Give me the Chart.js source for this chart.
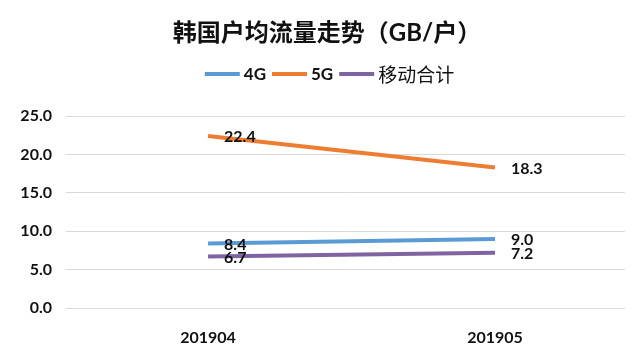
<!DOCTYPE html>
<html><head><meta charset="utf-8">
<script src="https://cdn.jsdelivr.net/npm/chart.js@4.4.1/dist/chart.umd.min.js"></script>
<style>html,body{margin:0;padding:0;background:#fff}#wrap{width:640px;height:351px}</style>
</head><body><div id="wrap"><canvas id="c" width="640" height="351"></canvas></div>
<script>
const categories = ["201904", "201905"];
const series4G = [8.4, 9.0];
const series5G = [22.4, 18.3];
const seriesTotal = [6.7, 7.2];
const yTicks = [0, 5, 10, 15, 20, 25];
const seriesNames = ["4G", "5G", "移动合计"];
const titleText = '韩国户均流量走势（GB/户）';

const FONT = "Lato, 'Noto Sans CJK SC', sans-serif";
const CJK = "'Noto Sans CJK SC', sans-serif";
const toPts = arr => arr.map((v, i) => ({x: i, y: v}));

const labelPlugin = {
  id: 'valLabels',
  afterDatasetsDraw(chart) {
    const ctx = chart.ctx;
    ctx.save();
    ctx.font = "bold 16px " + FONT;
    ctx.fillStyle = "#111";
    ctx.textAlign = "left";
    ctx.textBaseline = "middle";
    chart.data.datasets.forEach((ds, di) => {
      const meta = chart.getDatasetMeta(di);
      meta.data.forEach((pt, i) => {
        ctx.fillText(ds.data[i].y.toFixed(1), pt.x + 16, pt.y + 1);
      });
    });
    ctx.restore();
  }
};

// header (title + legend) drawn as a layout box above the chart area
const headerBox = {
  id: 'header',
  beforeInit(chart) {
    const box = {
      position: 'top', weight: 500, fullSize: true, options: {},
      top: 0, left: 0, right: 0, bottom: 0, width: 0, height: 0,
      update(maxWidth) { this.width = maxWidth; this.height = 116; return {}; },
      isHorizontal() { return true; },
      draw() {
        const ctx = chart.ctx;
        ctx.save();
        ctx.textBaseline = 'middle';
        ctx.textAlign = 'center';
        ctx.fillStyle = '#111';
        ctx.font = "bold 24px " + FONT;
        ctx.fillText(titleText, 327, this.top + 33);

        const items = chart.data.datasets.map(ds => {
          const cjk = /[^\x00-\x7f]/.test(ds.label);
          return {text: ds.label, color: ds.borderColor,
            font: cjk ? "normal 19px " + CJK : "bold 17px " + FONT};
        });
        const lineLen = 35, gap = 4, sep = 6;
        let total = 0;
        items.forEach((it, i) => {
          ctx.font = it.font;
          it.w = ctx.measureText(it.text).width;
          total += lineLen + gap + it.w + (i ? sep : 0);
        });
        let x = 329.5 - total / 2;
        const y = this.top + 74;
        ctx.textAlign = 'left';
        items.forEach((it, i) => {
          if (i) x += sep;
          ctx.strokeStyle = it.color;
          ctx.lineWidth = 4;
          ctx.lineCap = 'butt';
          ctx.beginPath(); ctx.moveTo(x, y); ctx.lineTo(x + lineLen, y); ctx.stroke();
          x += lineLen + gap;
          ctx.font = it.font;
          ctx.fillStyle = '#111';
          ctx.fillText(it.text, x, y + 1);
          x += it.w;
        });
        ctx.restore();
      }
    };
    Chart.layouts.addBox(chart, box);
  }
};

new Chart(document.getElementById('c'), {
  type: 'line',
  data: {
    datasets: [
      {label: seriesNames[0], data: toPts(series4G), borderColor: '#5B9BD5', backgroundColor: '#5B9BD5'},
      {label: seriesNames[1], data: toPts(series5G), borderColor: '#ED7D31', backgroundColor: '#ED7D31'},
      {label: seriesNames[2], data: toPts(seriesTotal), borderColor: '#8064A2', backgroundColor: '#8064A2'}
    ].map(d => Object.assign(d, {borderWidth: 4, pointRadius: 0, tension: 0}))
  },
  options: {
    responsive: false,
    animation: false,
    layout: {padding: {left: 0, right: 15, top: 0, bottom: 0}},
    plugins: {
      title: {display: false},
      legend: {display: false},
      tooltip: {enabled: false}
    },
    scales: {
      x: {type: 'linear', min: -0.495, max: 1.453,
        afterBuildTicks: s => { s.ticks = categories.map((c, i) => ({value: i})); },
        ticks: {callback: v => categories[v], color: '#111', padding: 12,
          font: {family: FONT, size: 16, weight: 'bold'}, maxRotation: 0},
        grid: {display: false}, border: {display: false},
        afterFit: s => { s.height = 43; }
      },
      y: {min: 0, max: 25,
        afterBuildTicks: s => { s.ticks = yTicks.map(v => ({value: v})); },
        ticks: {callback: v => v.toFixed(1), color: '#111', padding: 14,
          font: {family: FONT, size: 16, weight: 'bold'}},
        grid: {color: '#d9d9d9', lineWidth: 1, drawTicks: false},
        border: {display: false},
        afterFit: s => { s.width = 66; }
      }
    }
  },
  plugins: [headerBox, labelPlugin]
});
</script></body></html>
